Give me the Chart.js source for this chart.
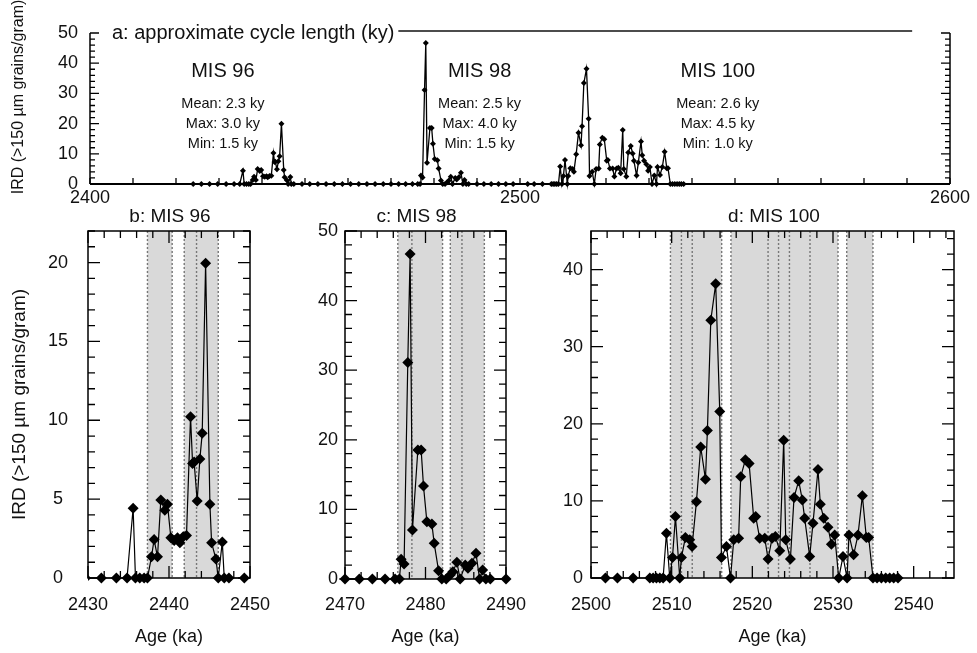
<!DOCTYPE html>
<html>
<head>
<meta charset="utf-8">
<script src="https://cdn.jsdelivr.net/npm/chart.js@4.4.0/dist/chart.umd.min.js"></script>
<style>
html, body { margin: 0; padding: 0; background: #fff; }
body { width: 977px; height: 653px; position: relative; overflow: hidden; }
canvas { position: absolute; }
</style>
</head>
<body>
<canvas id="panel-a" width="977" height="215" style="left:0px;top:0px"></canvas>
<canvas id="panel-b" width="300" height="453" style="left:0px;top:200px"></canvas>
<canvas id="panel-c" width="260" height="453" style="left:290px;top:200px"></canvas>
<canvas id="panel-d" width="437" height="453" style="left:540px;top:200px"></canvas>
<script>
Chart.defaults.font.family = "'Liberation Sans', Arial, Helvetica, sans-serif";
Chart.defaults.color = '#111';

// age (ka) and IRD (>150 um grains/gram)
const ages = [
    2424.0, 2425.9, 2427.8, 2429.7,
    2431.65, 2433.5, 2434.82, 2435.57, 2435.86, 2436.39, 2436.93, 2437.34, 2437.84, 2438.16,
    2438.58, 2438.99, 2439.48, 2439.81, 2440.23, 2440.64, 2441.05, 2441.34, 2441.75, 2442.16,
    2442.66, 2442.91, 2443.1, 2443.48, 2443.81, 2444.1, 2444.52, 2445.05, 2445.26, 2445.79,
    2446.08, 2446.58, 2446.82, 2447.4, 2449.3,
    2451.1, 2453.0, 2454.9, 2456.8, 2458.7, 2460.6, 2462.5, 2464.4, 2466.3, 2468.2,
    2470.0, 2471.78, 2473.4, 2474.98, 2476.22, 2476.76, 2476.97, 2477.34, 2477.8, 2478.09,
    2478.38, 2479.05, 2479.46, 2479.75, 2480.17, 2480.79, 2481.08, 2481.62, 2482.03, 2482.57,
    2483.07, 2483.4, 2483.9, 2484.3, 2484.94, 2485.27, 2485.77, 2486.27, 2486.72, 2487.1,
    2487.5, 2488.05, 2490.0,
    2491.6, 2493.3, 2495.0, 2496.7, 2498.4,
    2501.79, 2503.28, 2505.22, 2507.29, 2507.7, 2508.11, 2508.53, 2508.94, 2509.35, 2509.76,
    2510.1, 2510.47, 2511.0, 2511.21, 2511.7, 2512.24, 2512.53, 2513.07, 2513.6, 2514.19,
    2514.43, 2514.85, 2515.46, 2515.96, 2516.17, 2516.79, 2517.29, 2517.7, 2518.3, 2518.56,
    2519.14, 2519.6, 2520.17, 2520.42, 2520.91, 2521.54, 2521.95, 2522.45, 2522.86, 2523.4,
    2523.89, 2524.14, 2524.72, 2525.17, 2525.75, 2526.2, 2526.49, 2527.11, 2527.52, 2528.14,
    2528.43, 2528.85, 2529.38, 2529.8, 2530.21, 2530.71, 2531.24, 2531.74, 2531.98, 2532.56,
    2533.1, 2533.64, 2534.13, 2534.42, 2534.96, 2535.46, 2536.0, 2536.53, 2537.03, 2537.52,
    2538.06
];
const ird = [
    0, 0, 0, 0,
    0, 0, 0, 4.42, 0, 0, 0, 0, 1.34, 2.44,
    1.34, 4.95, 4.29, 4.67, 2.55, 2.38, 2.55, 2.23, 2.61, 2.70,
    10.23, 7.26, 7.35, 4.88, 7.54, 9.17, 19.96, 4.67, 2.23, 1.21,
    0, 2.29, 0, 0, 0,
    0, 0, 0, 0, 0, 0, 0, 0, 0, 0,
    0, 0, 0, 0, 0, 0, 2.83, 2.16, 31.1, 46.7,
    7.04, 18.53, 18.53, 13.36, 8.24, 7.9, 5.12, 1.2, 0, 0,
    0.57, 1.05, 2.39, 0, 2.01, 1.53, 2.25, 3.69, 0, 1.29,
    0, 0, 0,
    0, 0, 0, 0, 0,
    0, 0, 0, 0, 0, 0, 0, 0, 5.81, 0,
    2.67, 7.96, 0, 2.67, 5.25, 4.95, 4.09, 9.89, 16.99, 12.82,
    19.14, 33.42, 38.15, 21.59, 2.67, 4.09, 0, 4.95, 5.16, 13.12,
    15.35, 14.84, 7.74, 7.96, 5.16, 5.16, 2.45, 5.16, 5.38, 3.53,
    17.85, 4.95, 2.45, 10.45, 12.6, 10.1, 7.74, 2.8, 7.1, 14.06,
    9.55, 7.74, 6.58, 4.39, 5.59, 0, 2.8, 0, 5.59, 3.01,
    5.59, 10.67, 5.25, 5.25, 0, 0, 0, 0, 0, 0,
    0
];

// shaded cycles and the dotted cycle boundaries (ka)
const bands96 = [[2437.34, 2440.39], [2441.88, 2446.08]];
const edges96 = [2437.34, 2440.39, 2441.88, 2443.40, 2446.08];
const bands98 = [[2476.56, 2482.12], [2483.08, 2487.31]];
const edges98 = [2476.56, 2478.31, 2482.12, 2483.08, 2484.53, 2487.31];
const bands100 = [[2509.85, 2516.2], [2517.35, 2530.62], [2531.7, 2534.95]];
const edges100 = [2509.85, 2511.21, 2512.55, 2516.2, 2517.35, 2521.95, 2523.25, 2524.6, 2527.15, 2530.62, 2531.7, 2534.95];

// cycle length statistics (ky)
const misNames = ['MIS 96', 'MIS 98', 'MIS 100'];
const cycleMean = [2.3, 2.5, 2.6];
const cycleMax = [3.0, 4.0, 4.5];
const cycleMin = [1.5, 1.5, 1.0];
const misAgeCentre = [2430.9, 2490.6, 2546.0];

const points = ages.map((a, i) => ({ x: a, y: ird[i] }));
const yTitle = 'IRD (>150 µm grains/gram)';

function tickLoop(scale, step, fn) {
    const first = Math.ceil(scale.min / step - 1e-6);
    for (let i = first; i * step <= scale.max + 1e-6; i++) fn(i * step);
}

function decor(opts) {
    return {
        id: 'decor',
        beforeDatasetsDraw(chart) {
            const { ctx, chartArea: ca, scales: { x } } = chart;
            ctx.save();
            ctx.fillStyle = '#d9d9d9';
            (opts.bands || []).forEach(([a, b]) => {
                const x0 = x.getPixelForValue(a), x1 = x.getPixelForValue(b);
                ctx.fillRect(x0, ca.top, x1 - x0, ca.bottom - ca.top);
            });
            ctx.strokeStyle = '#777';
            ctx.lineWidth = 1.4;
            ctx.setLineDash([2, 2]);
            (opts.edges || []).forEach(v => {
                const px = x.getPixelForValue(v);
                ctx.beginPath();
                ctx.moveTo(px, ca.top);
                ctx.lineTo(px, ca.bottom);
                ctx.stroke();
            });
            ctx.restore();
        },
        afterDatasetsDraw(chart) {
            const { ctx, chartArea: ca, scales: { x, y } } = chart;
            ctx.save();
            ctx.strokeStyle = '#000';
            ctx.lineWidth = 1.3;
            // inward ticks
            tickLoop(x, opts.xMinor, v => {
                const px = x.getPixelForValue(v);
                const major = Math.abs(v / opts.xMajor - Math.round(v / opts.xMajor)) < 1e-6;
                const L = major ? opts.majorLen : opts.minorLen;
                ctx.beginPath();
                ctx.moveTo(px, ca.bottom); ctx.lineTo(px, ca.bottom - (opts.xTickLen || L));
                if (opts.box) { ctx.moveTo(px, ca.top); ctx.lineTo(px, ca.top + L); }
                ctx.stroke();
            });
            tickLoop(y, opts.yMinor, v => {
                const py = y.getPixelForValue(v);
                const major = Math.abs(v / opts.yMajor - Math.round(v / opts.yMajor)) < 1e-6;
                const L = major ? opts.majorLen : opts.minorLen;
                ctx.beginPath();
                ctx.moveTo(ca.left, py); ctx.lineTo(ca.left + L, py);
                ctx.moveTo(ca.right, py); ctx.lineTo(ca.right - L, py);
                ctx.stroke();
            });
            // frame
            ctx.lineWidth = 1.5;
            ctx.beginPath();
            if (opts.box) {
                ctx.rect(ca.left, ca.top, ca.right - ca.left, ca.bottom - ca.top);
            } else {
                ctx.moveTo(ca.left, ca.top); ctx.lineTo(ca.left, ca.bottom);
                ctx.moveTo(ca.right, ca.top); ctx.lineTo(ca.right, ca.bottom);
            }
            ctx.stroke();
            if (!opts.box) {
                ctx.lineWidth = 2.2;
                ctx.beginPath();
                ctx.moveTo(ca.left, ca.bottom); ctx.lineTo(ca.right, ca.bottom);
                ctx.stroke();
            }
            if (opts.title) {
                ctx.fillStyle = '#111';
                ctx.font = "19px 'Liberation Sans', Arial, sans-serif";
                ctx.textAlign = 'center';
                ctx.textBaseline = 'middle';
                ctx.fillText(opts.title, (ca.left + ca.right) / 2 + opts.titleShift, ca.top - 14);
            }
            if (opts.extra) opts.extra(chart);
            ctx.restore();
        }
    };
}

// text of panel a: heading with its rule, the axis title and the cycle statistics
function panelAText(chart) {
    const { ctx, chartArea: ca, scales: { x, y } } = chart;
    ctx.fillStyle = '#111';
    ctx.textBaseline = 'middle';
    ctx.textAlign = 'left';
    ctx.font = "20px 'Liberation Sans', Arial, sans-serif";
    const head = 'a: approximate cycle length (ky)';
    ctx.fillText(head, ca.left + 22, ca.top);
    const w = ctx.measureText(head).width;
    ctx.strokeStyle = '#111';
    ctx.lineWidth = 1.6;
    ctx.beginPath();
    ctx.moveTo(ca.left + 22 + w + 4, ca.top - 2);
    ctx.lineTo(x.getPixelForValue(2591.2), ca.top - 2);
    ctx.stroke();
    ctx.textAlign = 'center';
    misNames.forEach((name, i) => {
        const px = x.getPixelForValue(misAgeCentre[i]);
        ctx.font = "20px 'Liberation Sans', Arial, sans-serif";
        ctx.fillText(name, px, y.getPixelForValue(37.1));
        ctx.font = "14.5px 'Liberation Sans', Arial, sans-serif";
        ctx.fillText('Mean: ' + cycleMean[i].toFixed(1) + ' ky', px, y.getPixelForValue(26.5));
        ctx.fillText('Max: ' + cycleMax[i].toFixed(1) + ' ky', px, y.getPixelForValue(19.9));
        ctx.fillText('Min: ' + cycleMin[i].toFixed(1) + ' ky', px, y.getPixelForValue(13.2));
    });
    // y-axis title sits a little above the plot centre in the original
    ctx.save();
    ctx.translate(19, 97);
    ctx.rotate(-Math.PI / 2);
    ctx.font = "16px 'Liberation Sans', Arial, sans-serif";
    ctx.fillText(yTitle, 0, 0);
    ctx.restore();
}

function makePanel(id, p) {
    return new Chart(document.getElementById(id), {
        type: 'line',
        data: {
            datasets: [{
                data: points,
                borderColor: '#000',
                borderWidth: p.lineW,
                pointStyle: 'rectRot',
                pointRadius: p.radius,
                pointBackgroundColor: '#000',
                pointBorderColor: '#000',
                pointBorderWidth: 0,
                tension: 0,
                clip: p.clip
            }]
        },
        options: {
            responsive: false,
            animation: false,
            events: [],
            layout: { padding: p.padding },
            plugins: { legend: { display: false }, tooltip: { enabled: false } },
            scales: {
                x: {
                    type: 'linear',
                    min: p.xMin, max: p.xMax,
                    afterFit: s => { s.height = p.xAxisH; },
                    grid: { display: false, drawTicks: false },
                    border: { display: false },
                    ticks: {
                        stepSize: p.xStep, includeBounds: false, autoSkip: false, maxRotation: 0,
                        padding: p.xTickPad, font: { size: 18 }, color: '#111',
                        callback: v => String(v)
                    },
                    title: {
                        display: !!p.xTitle, text: p.xTitle, font: { size: 18 }, color: '#111',
                        padding: { top: 0, bottom: 5 }
                    }
                },
                y: {
                    min: p.yMin, max: p.yMax,
                    afterFit: s => { s.width = p.yAxisW; },
                    grid: { display: false, drawTicks: false },
                    border: { display: false },
                    ticks: {
                        stepSize: p.yStep, includeBounds: false, autoSkip: false,
                        padding: p.yTickPad, crossAlign: p.crossAlign || 'near',
                        font: { size: 18 }, color: '#111',
                        callback: v => String(v)
                    },
                    title: {
                        display: !!p.yTitle, text: p.yTitle, font: { size: 19 }, color: '#111',
                        padding: { top: 8, bottom: 0 }
                    }
                }
            }
        },
        plugins: [decor(p.decor)]
    });
}

makePanel('panel-a', {
    xMin: 2400, xMax: 2600, yMin: 0, yMax: 50, xStep: 100, yStep: 10,
    radius: 3, lineW: 1.3, clip: false,
    padding: { left: 0, top: 33, right: 27, bottom: 0 },
    yAxisW: 90, xAxisH: 31, xTickPad: 3, yTickPad: 12,
    decor: { xMinor: 10, xMajor: 10, yMinor: 2, yMajor: 10, minorLen: 5, majorLen: 9, xTickLen: 6, box: false, extra: panelAText }
});

makePanel('panel-b', {
    xMin: 2430, xMax: 2450, yMin: 0, yMax: 22, xStep: 10, yStep: 5,
    radius: 5.5, lineW: 1.2, clip: { left: 0, right: 0, top: 0, bottom: 8 },
    padding: { left: 0, top: 31, right: 50, bottom: 0 },
    yAxisW: 88, xAxisH: 75, xTickPad: 16, yTickPad: 20, crossAlign: 'center',
    xTitle: 'Age (ka)', yTitle: yTitle,
    decor: { xMinor: 2, xMajor: 10, yMinor: 1, yMajor: 5, minorLen: 7, majorLen: 12, box: true,
             bands: bands96, edges: edges96, title: 'b: MIS 96', titleShift: 1 }
});

makePanel('panel-c', {
    xMin: 2470, xMax: 2490, yMin: 0, yMax: 50, xStep: 10, yStep: 10,
    radius: 5.5, lineW: 1.2, clip: { left: 6, right: 6, top: 0, bottom: 8 },
    padding: { left: 0, top: 31, right: 44, bottom: 0 },
    yAxisW: 55, xAxisH: 74, xTickPad: 15, yTickPad: 7,
    xTitle: 'Age (ka)',
    decor: { xMinor: 2, xMajor: 10, yMinor: 2, yMajor: 10, minorLen: 7, majorLen: 12, box: true,
             bands: bands98, edges: edges98, title: 'c: MIS 98', titleShift: -9 }
});

makePanel('panel-d', {
    xMin: 2500, xMax: 2545, yMin: 0, yMax: 45, xStep: 10, yStep: 10,
    radius: 5.5, lineW: 1.2, clip: { left: 0, right: 0, top: 0, bottom: 8 },
    padding: { left: 0, top: 31, right: 23, bottom: 0 },
    yAxisW: 51, xAxisH: 75, xTickPad: 16, yTickPad: 8,
    xTitle: 'Age (ka)',
    decor: { xMinor: 2, xMajor: 10, yMinor: 2, yMajor: 10, minorLen: 7, majorLen: 12, box: true,
             bands: bands100, edges: edges100, title: 'd: MIS 100', titleShift: 1.5 }
});
</script>
</body>
</html>
